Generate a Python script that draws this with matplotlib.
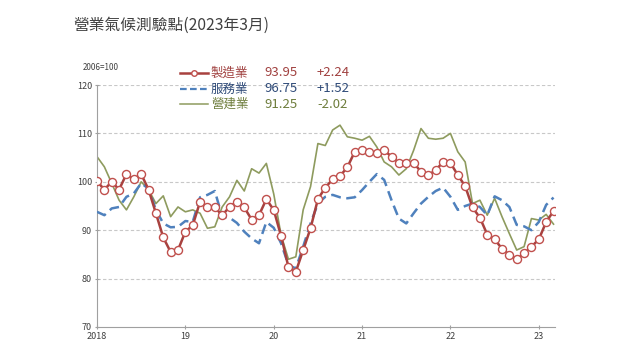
import matplotlib
matplotlib.use("Agg")
import matplotlib.pyplot as plt
from matplotlib.lines import Line2D

plt.rcParams['font.family'] = ['Noto Sans CJK TC', 'DejaVu Sans']

title = "營業氣候測驗點(2023年3月)"
base_note = "2006=100"
series_names = ["製造業", "服務業", "營建業"]
x_tick_labels = ["2018", "19", "20", "21", "22", "23"]
y_ticks = [70, 80, 90, 100, 110, 120]

manufacturing = [
    100.1, 98.4, 100.0, 98.4, 101.6, 100.5, 101.6, 98.4, 93.5, 88.5, 85.5, 85.9,
    89.7, 91.0, 95.9, 94.7, 94.7, 93.1, 94.8, 95.9, 94.7, 92.2, 93.1, 96.4,
    94.2, 88.8, 82.4, 81.4, 85.9, 90.4, 96.4, 98.8, 100.5, 101.2, 103.0, 106.2,
    106.5, 106.2, 105.9, 106.5, 105.2, 103.9, 103.9, 103.9, 102.1, 101.4, 102.4, 104.1,
    103.9, 101.4, 99.1, 94.7, 92.6, 89.1, 88.1, 86.2, 84.9, 84.0, 85.2, 86.6,
    88.1, 91.71, 93.95,
]
services = [
    93.8, 93.1, 94.5, 94.8, 96.9, 97.6, 99.7, 98.6, 94.2, 91.4, 90.6, 90.7,
    91.9, 91.7, 96.8, 97.3, 98.1, 92.8, 92.6, 91.5, 89.7, 88.3, 87.3, 91.7,
    90.5, 87.3, 82.8, 82.1, 86.6, 91.4, 95.5, 96.9, 97.3, 96.8, 96.6, 96.8,
    98.3, 100.0, 101.6, 100.4, 96.2, 92.4, 91.4, 93.5, 95.5, 96.9, 98.1, 98.8,
    96.9, 94.2, 95.0, 95.5, 94.8, 93.1, 97.0, 96.2, 94.8, 91.1, 90.8, 90.0,
    91.7, 95.23, 96.75,
]
construction = [
    105.2, 103.1, 99.7, 96.2, 94.2, 96.9, 100.0, 98.4, 95.5, 97.1, 92.8, 94.8,
    93.8, 94.2, 93.5, 90.4, 90.7, 94.8, 96.9, 100.3, 98.1, 102.7, 101.8, 103.8,
    97.5, 89.0, 84.0, 84.5, 94.2, 99.0, 107.9, 107.5, 110.7, 111.7, 109.3, 109.0,
    108.6, 109.4, 107.2, 104.1, 103.1, 101.4, 102.7, 106.5, 111.0, 109.0, 108.8, 109.0,
    110.0, 106.2, 104.1, 95.5, 96.2, 93.1, 96.6, 92.8, 89.3, 85.9, 86.6, 92.4,
    92.1, 93.27, 91.25,
]

months = list(range(len(manufacturing)))
x_ticks = [12 * i for i in range(len(x_tick_labels))]

red = "#A8413F"
red_mk = "#C0504D"
blue = "#4F81BD"
olive = "#8E9B5E"
txt_red = "#A0403F"
txt_blue = "#2E4A78"
txt_olive = "#6E7D3C"

fig = plt.figure(figsize=(6.4, 3.6), dpi=100)
ax = fig.add_axes([97 / 640, 1 - 327 / 360, 458 / 640, 242 / 360])

ax.plot(months, construction, color=olive, lw=1.2, zorder=2)
ax.plot(months, services, color=blue, lw=1.8, ls=(0, (4, 2.2)), zorder=3)
ax.plot(months, manufacturing, color=red, lw=1.8, marker='o', ms=5.8,
        mfc='white', mec=red_mk, mew=1.0, zorder=4)

ax.set_xlim(0, 62.2)
ax.set_ylim(70, 120)
ax.set_yticks(y_ticks)
ax.set_yticklabels([str(v) for v in y_ticks])
ax.set_xticks(x_ticks)
ax.set_xticklabels(x_tick_labels)
for v in y_ticks[1:]:
    ax.axhline(v, color="#C8C8C8", lw=0.8, ls=(0, (3, 2)), zorder=1)

for s in ["top", "right"]:
    ax.spines[s].set_visible(False)
for s in ["left", "bottom"]:
    ax.spines[s].set_color("#A0A0A0")
    ax.spines[s].set_linewidth(0.8)
ax.tick_params(axis='both', colors="#A0A0A0", labelcolor="#404040", labelsize=6.5,
               length=3, width=0.8, direction='inout', pad=2)

fig.text(73 / 640, 1 - 25 / 360, title, fontsize=11.3, color="#404040",
         va='center', ha='left')
fig.text(83 / 640, 1 - 67 / 360, base_note, fontsize=5.8, color="#404040",
         va='center', ha='left')

# legend table
rows = [
    (series_names[0], manufacturing, dict(color=red, lw=1.8, marker='o', ms=4,
                                          mfc='white', mec=red_mk, markevery=[1]), txt_red),
    (series_names[1], services, dict(color=blue, lw=1.6, ls=(0, (3, 1.5))), txt_blue),
    (series_names[2], construction, dict(color=olive, lw=1.1), txt_olive),
]
row_y = [73, 89, 104]
for (name, data, style, tc), y in zip(rows, row_y):
    fy = 1 - y / 360
    ln = Line2D([180 / 640, 194 / 640, 208 / 640], [fy, fy, fy],
                transform=fig.transFigure, **style)
    fig.add_artist(ln)
    last = data[-1]
    chg = data[-1] - data[-2]
    fig.text(211 / 640, fy, name, fontsize=9, color=tc, va='center', ha='left')
    fig.text(264 / 640, fy, f"{last:.2f}", fontsize=9.5, color=tc, va='center', ha='left')
    fig.text(317 / 640, fy, f"{chg:+.2f}", fontsize=9.5, color=tc, va='center', ha='left')

fig.savefig("out.png", dpi=100)
